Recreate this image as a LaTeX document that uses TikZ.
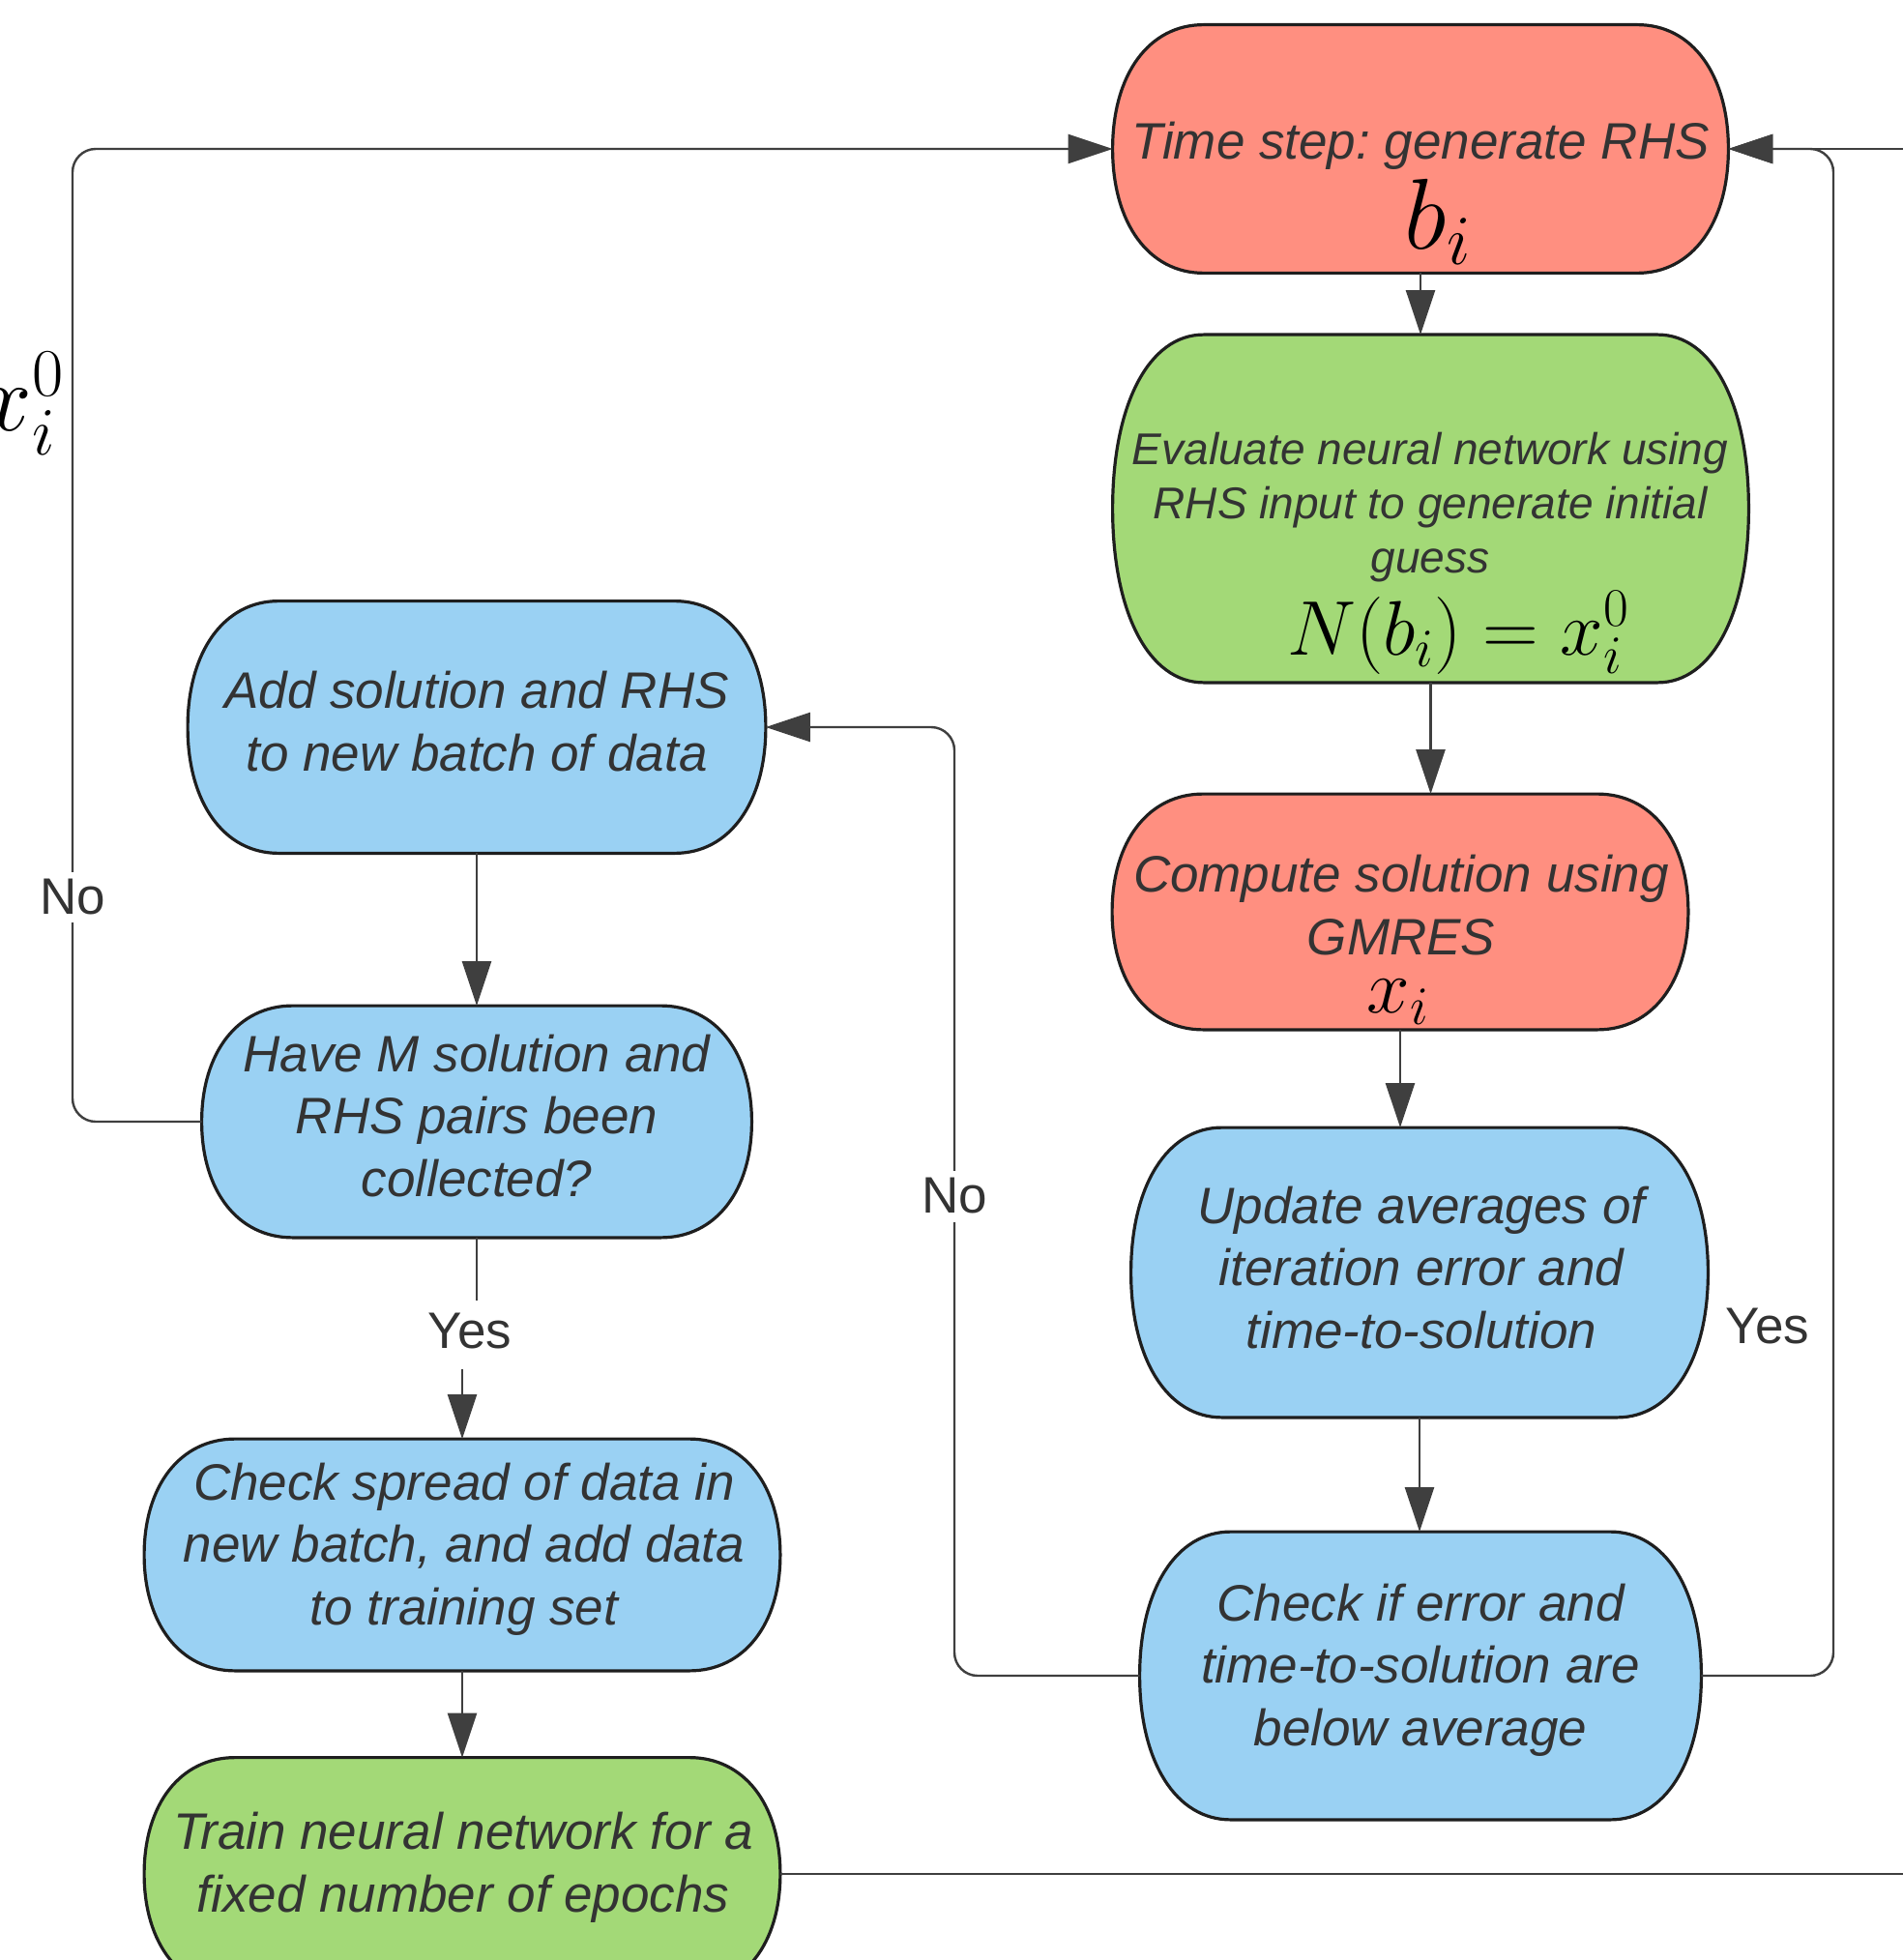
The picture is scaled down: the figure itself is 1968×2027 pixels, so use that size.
\RequirePackage{fix-cm}
\documentclass[tikz,border=0pt]{standalone}
\usepackage{fontspec}
\setmainfont{Liberation Sans}
\usetikzlibrary{arrows.meta,calc}
\definecolor{cred}{HTML}{FF8F80}
\definecolor{cgreen}{HTML}{A3D977}
\definecolor{cblue}{HTML}{9AD1F3}
\definecolor{ctext}{HTML}{333333}
\definecolor{cline}{HTML}{3F3F3F}
\definecolor{cborder}{HTML}{1E1E1E}
\pgfdeclarelayer{bg}
\pgfsetlayers{bg,main}
\frenchspacing
\newcommand\capr{47pt}
\newcommand\capsule[2]{%
  \path[capsulestyle, fill=#2] let \p1=(#1.north west), \p2=(#1.south east),
     \n1={(\y1+\y2)/2}, \n2={(\y1-\y2)/2} in
   (\x1+\capr,\y1) -- (\x2-\capr,\y1)
   .. controls (\x2-0.4*\capr,\y1) and (\x2,\n1*1pt+0.6*\n2*1pt) .. (\x2,\n1*1pt)
   .. controls (\x2,\n1*1pt-0.6*\n2*1pt) and (\x2-0.4*\capr,\y2) .. (\x2-\capr,\y2)
   -- (\x1+\capr,\y2)
   .. controls (\x1+0.4*\capr,\y2) and (\x1,\n1*1pt-0.6*\n2*1pt) .. (\x1,\n1*1pt)
   .. controls (\x1,\n1*1pt+0.6*\n2*1pt) and (\x1+0.4*\capr,\y1) .. (\x1+\capr,\y1) -- cycle;
}
\begin{document}
\begin{tikzpicture}[x=0.5pt,y=-0.5pt,
  box/.style={rectangle, inner sep=0pt},
  capsulestyle/.style={draw=cborder, line width=1.6pt},
  txt/.style={font=\fontsize{26.5}{32.3}\selectfont\itshape, text=ctext, align=center, inner sep=0pt},
  txts/.style={font=\fontsize{23}{28}\selectfont\itshape, text=ctext, align=center, inner sep=0pt},
  mth/.style={font=\fontsize{40}{40}\selectfont, inner sep=0pt, anchor=base},
  lbl/.style={font=\fontsize{26.5}{32}\selectfont, text=ctext, fill=white, inner sep=4pt},
  conn/.style={draw=cline, line width=1.2pt},
  arr/.style={-{Triangle[length=23pt,width=15pt]}}
]
\useasboundingbox (0,0) rectangle (1968,2027);

% shape nodes
\node[box, minimum width=318pt, minimum height=128pt] (ts) at (1469,154) {};
\node[box, minimum width=328.5pt, minimum height=179.5pt] (ev) at (1479.5,526) {};
\node[box, minimum width=297.5pt, minimum height=121.5pt] (cs) at (1448,943) {};
\node[box, minimum width=298pt, minimum height=149.5pt] (up) at (1468,1316) {};
\node[box, minimum width=290pt, minimum height=148.5pt] (ck) at (1469,1733) {};
\node[box, minimum width=298.5pt, minimum height=130pt] (add) at (493,752) {};
\node[box, minimum width=284pt, minimum height=119.5pt] (hm) at (493,1160) {};
\node[box, minimum width=328.5pt, minimum height=119.5pt] (sp) at (478,1608) {};
\node[box, minimum width=328.5pt, minimum height=120pt] (tr) at (478,1938) {};

\begin{pgfonlayer}{bg}
\capsule{ts}{cred}
\capsule{ev}{cgreen}
\capsule{cs}{cred}
\capsule{up}{cblue}
\capsule{ck}{cblue}
\capsule{add}{cblue}
\capsule{hm}{cblue}
\capsule{sp}{cblue}
\capsule{tr}{cgreen}
\end{pgfonlayer}

% texts
\node[txt, anchor=base] (tst) at (1469,165) {Time step: generate RHS};
\node[mth, font=\fontsize{52}{52}\selectfont] (tsm) at (1487,258) {$b_i$};
\node[txts] (evt) at (1479,525) {Evaluate neural network using\\RHS input to generate initial\\guess};
\node[mth] (evm) at (1508,677) {$N(b_i) = x_i^0$};
\node[txt] (cst) at (1449,936) {Compute solution using\\GMRES};
\node[mth] (csm) at (1446,1047) {$x_i$};
\node[txt] (upt) at (1470,1311) {Update averages of\\iteration error and\\time-to-solution};
\node[txt] (ckt) at (1469,1727) {Check if error and\\time-to-solution are\\below average};
\node[txt] (addt) at (493,746) {Add solution and RHS\\to new batch of data};
\node[txt] (hmt) at (493,1154) {Have M solution and\\RHS pairs been\\collected?};
\node[txt] (spt) at (480,1602) {Check spread of data in\\new batch, and add data\\to training set};
\node[txt] (trt) at (479,1931) {Train neural network for a\\fixed number of epochs};
\node[inner sep=0pt, anchor=base east, font=\fontsize{50}{50}\selectfont] (x0) at (67,446) {$x_i^0$};

% connectors
\draw[conn,arr] (ts.south) -- (ts.south |- ev.north);
\draw[conn,arr] (ev.south) -- (ev.south |- cs.north);
\draw[conn,arr] (cs.south) -- (cs.south |- up.north);
\draw[conn,arr] (up.south) -- (up.south |- ck.north);
\draw[conn,arr] (add.south) -- (hm.north);
\draw[conn] (hm.south) -- ++(0,65);
\draw[conn,arr] ($(sp.north)+(0,-72)$) -- (sp.north);
\draw[conn,arr] (sp.south) -- (tr.north);
\coordinate (lc) at (75,154);
\draw[conn,arr,rounded corners=12pt] (hm.west) -| (lc) -- (ts.west);
\coordinate (mc) at (987,752);
\draw[conn,arr,rounded corners=12pt] (ck.west) -| (mc) -- (add.east);
\coordinate (rc) at (1896,154);
\draw[conn,arr,rounded corners=12pt] (ck.east) -| (rc) -- (ts.east);
\coordinate (oc) at (2040,154);
\draw[conn,arr] (tr.east) -| (oc) -- (ts.east);

% labels
\node[lbl] (no1) at (75,928) {No};
\node[lbl] (no2) at (987,1237) {No};
\node[lbl] (yes1) at (486,1377) {Yes};
\node[lbl] (yes2) at (1828,1372) {Yes};
\end{tikzpicture}
\end{document}
